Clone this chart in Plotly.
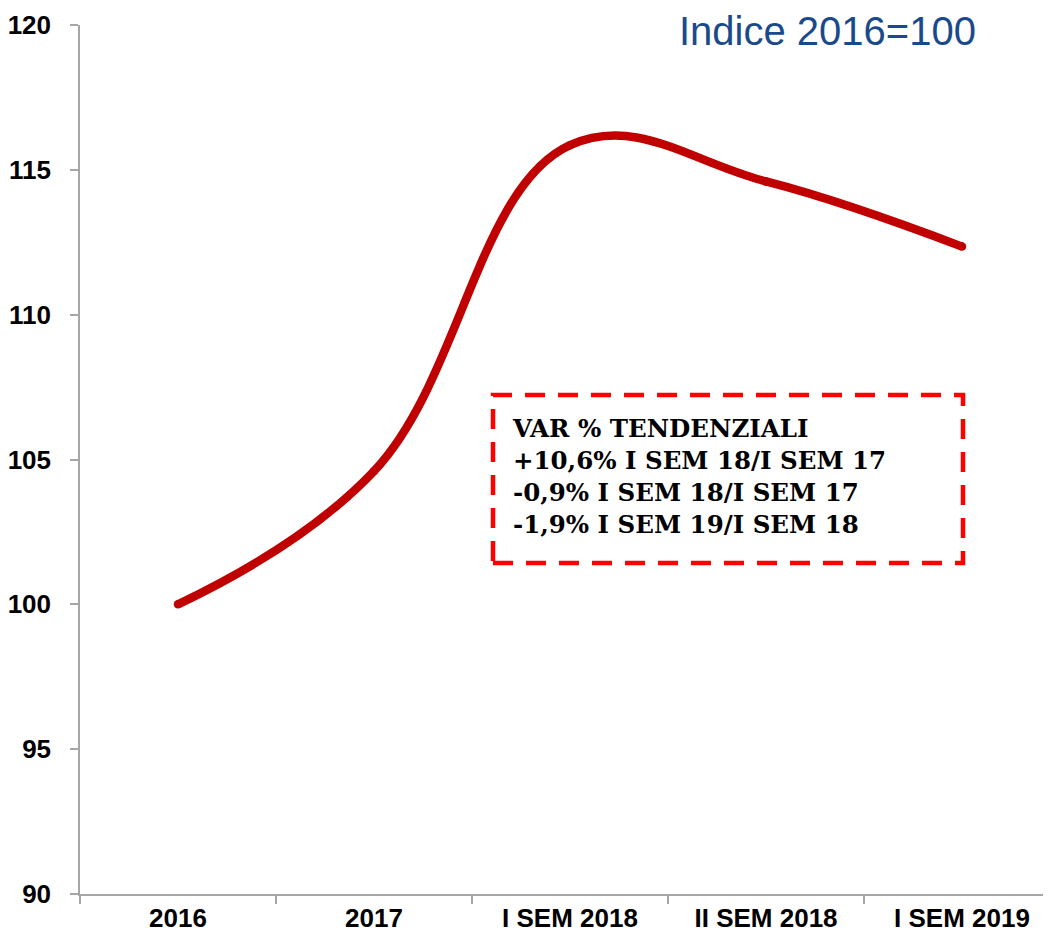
import plotly.graph_objects as go

categories = ["2016", "2017", "I SEM 2018", "II SEM 2018", "I SEM 2019"]
index_values = [100.0, 104.6, 115.85, 114.6, 112.35]
y_ticks = [90, 95, 100, 105, 110, 115, 120]
title_text = "Indice 2016=100"
box_lines = [
    "VAR % TENDENZIALI",
    "+10,6% I SEM 18/I SEM 17",
    "-0,9% I SEM 18/I SEM 17",
    "-1,9% I SEM 19/I SEM 18",
]

# page body adds an 8px margin, so the figure is laid out in page pixels minus 8
OFF = 8
W, H = 1051 - OFF, 937 - OFF
L, R, T, B = 80 - OFF, 0, 25 - OFF, 43
PW, PH = W - L - R, H - T - B
CAT_W = 196.0


def px_x(p):
    return (p - OFF - L) / PW


def px_y(p):
    return (H - B - (p - OFF)) / PH


fig = go.Figure()
fig.add_trace(go.Scatter(
    x=categories, y=index_values, mode="lines+markers",
    line=dict(color="#C00000", width=8.5, shape="spline", smoothing=1.15),
    marker=dict(color="#C00000", size=8.5, line=dict(width=0)),
    hoverinfo="x+y", showlegend=False,
))

axis_grey = "#A6A6A6"
tick_font = dict(family="Liberation Sans, Arial, sans-serif", size=26, color="black", weight="bold")
fig.update_layout(
    width=W, height=H,
    margin=dict(l=L, r=R, t=T, b=B, autoexpand=False),
    paper_bgcolor="white", plot_bgcolor="white",
    showlegend=False,
    xaxis=dict(
        type="category", categoryorder="array", categoryarray=categories,
        range=[-0.5, -0.5 + PW / CAT_W],
        showline=True, linecolor=axis_grey, linewidth=1.5,
        showgrid=False, zeroline=False,
        ticks="outside", ticklen=8, tickcolor=axis_grey, tickwidth=1.5,
        tickson="boundaries",
        tickfont=tick_font,
        automargin=False,
    ),
    yaxis=dict(
        range=[90, 120], tickvals=y_ticks, ticktext=[str(v) for v in y_ticks],
        showline=True, linecolor=axis_grey, linewidth=1.5,
        showgrid=False, zeroline=False,
        ticks="outside", ticklen=8, tickcolor=axis_grey, tickwidth=1.5,
        tickfont=tick_font,
        ticklabelstandoff=14,
        automargin=False,
    ),
)

fig.add_annotation(
    text=title_text, xref="paper", yref="paper",
    x=px_x(827), y=px_y(31), xanchor="center", yanchor="middle",
    showarrow=False, borderpad=0,
    font=dict(family="Liberation Sans, Arial, sans-serif", size=40, color="#1B4A8C"),
)

fig.add_shape(
    type="rect", xref="paper", yref="paper",
    x0=px_x(493), x1=px_x(963), y0=px_y(563), y1=px_y(395),
    line=dict(color="#FF0000", width=4.5, dash="20px,13px"),
    fillcolor="rgba(0,0,0,0)",
)

fig.add_annotation(
    text="<br>".join(box_lines), xref="paper", yref="paper",
    x=px_x(510), y=px_y(476), xanchor="left", yanchor="middle", align="left",
    showarrow=False,
    font=dict(family="DejaVu Serif, serif", size=24.5, color="black", weight="bold"),
)

fig.write_html("out.html")
